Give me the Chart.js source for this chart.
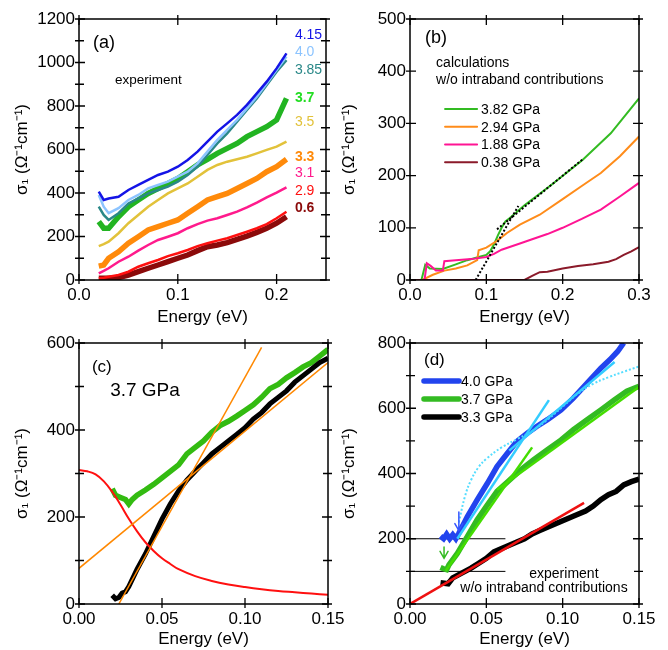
<!DOCTYPE html>
<html>
<head>
<meta charset="utf-8">
<script src="https://cdn.jsdelivr.net/npm/chart.js@4.4.0/dist/chart.umd.min.js"></script>
<style>
  body { margin: 0; background: #fff; }
  #wrap { position: relative; width: 668px; height: 650px; }
  #wrap canvas { position: absolute; left: 0; top: 0; }
</style>
</head>
<body>
<div id="wrap">
  <canvas id="chartA" width="668" height="650"></canvas>
  <canvas id="chartB" width="668" height="650"></canvas>
  <canvas id="chartC" width="668" height="650"></canvas>
  <canvas id="chartD" width="668" height="650"></canvas>
</div>
<script>
// ---- panel (a): experiment, one energy grid for all pressures
const energyA = [0.02, 0.025, 0.03, 0.04, 0.05, 0.06, 0.07, 0.08, 0.09, 0.1, 0.11, 0.12, 0.13, 0.14, 0.15, 0.16, 0.17, 0.18, 0.19, 0.2, 0.21];
const a415 = [406, 368, 375, 383, 414, 437, 460, 483, 498, 521, 552, 590, 636, 682, 720, 759, 805, 858, 912, 973, 1042];
const a400 = [391, 337, 307, 330, 368, 391, 421, 437, 452, 475, 498, 536, 590, 644, 690, 736, 789, 843, 904, 966, 1027];
const a385 = [337, 299, 276, 307, 352, 375, 398, 414, 429, 452, 483, 521, 575, 628, 674, 728, 782, 835, 897, 958, 1011];
const a370 = [268, 238, 238, 291, 337, 368, 398, 421, 444, 467, 498, 529, 555, 582, 605, 628, 659, 682, 705, 736, 835];
const a350 = [156, 165, 176, 215, 261, 299, 337, 368, 398, 421, 444, 475, 506, 529, 544, 555, 567, 582, 598, 613, 636];
const a330 = [64, 69, 100, 130, 169, 199, 230, 245, 261, 276, 307, 337, 368, 383, 398, 421, 444, 467, 498, 521, 555];
const a310 = [31, 42, 54, 84, 107, 135, 161, 184, 199, 215, 238, 257, 273, 284, 299, 314, 334, 356, 380, 402, 426];
const a290 = [8, 10, 15, 23, 38, 61, 77, 92, 110, 123, 138, 156, 169, 181, 192, 207, 222, 238, 257, 284, 314];
const a060 = [8, 8, 8, 11, 23, 38, 54, 69, 84, 100, 115, 135, 153, 161, 172, 187, 202, 219, 238, 261, 291];
const labelsA = ['4.15', '4.0', '3.85', '3.7', '3.5', '3.3', '3.1', '2.9', '0.6'];

// ---- panel (b): calculations
const b382x = [0, 0.015, 0.02, 0.026, 0.043, 0.06, 0.075, 0.09, 0.1, 0.105, 0.11, 0.115, 0.12, 0.125, 0.13, 0.15, 0.185, 0.226, 0.263, 0.3];
const b382y = [0, 0, 29, 22, 21, 30, 38, 44, 48, 55, 68, 85, 100, 112, 118, 143, 182, 230, 281, 348];
const b294x = [0, 0.016, 0.03, 0.045, 0.06, 0.075, 0.088, 0.09, 0.1, 0.114, 0.127, 0.144, 0.17, 0.2, 0.225, 0.25, 0.275, 0.3];
const b294y = [0, 0, 10, 18, 22, 28, 38, 57, 62, 75, 90, 106, 125, 155, 180, 205, 237, 275];
const b188x = [0, 0.019, 0.022, 0.027, 0.034, 0.043, 0.045, 0.06, 0.08, 0.1, 0.11, 0.12, 0.144, 0.16, 0.18, 0.2, 0.225, 0.25, 0.275, 0.3];
const b188y = [0, 0, 32, 27, 18, 18, 36, 38, 40, 44, 50, 58, 70, 78, 88, 100, 117, 135, 160, 186];
const b038x = [0, 0.15, 0.16, 0.17, 0.18, 0.2, 0.22, 0.24, 0.26, 0.27, 0.28, 0.29, 0.3];
const b038y = [0, 0, 8, 15, 16, 22, 27, 30, 35, 40, 48, 55, 63];
const bFit1x = [0.086, 0.142], bFit1y = [0, 142];
const bFit2x = [0.114, 0.226], bFit2y = [97, 231];
const labelsB = ['3.82 GPa', '2.94 GPa', '1.88 GPa', '0.38 GPa'];

// ---- panel (c): 3.7 GPa decomposition
const cExpX = [0.02, 0.022, 0.025, 0.028, 0.03, 0.032, 0.035, 0.04, 0.045, 0.05, 0.055, 0.06, 0.065, 0.07, 0.075, 0.08, 0.085, 0.09, 0.095, 0.1, 0.105, 0.11, 0.115, 0.12, 0.125, 0.13, 0.135, 0.14, 0.145, 0.15];
const cExpY = [265, 250, 245, 240, 230, 240, 250, 262, 275, 290, 305, 320, 345, 360, 375, 395, 410, 420, 432, 445, 458, 475, 495, 505, 520, 532, 545, 555, 570, 585];
const cInterX = [0.02, 0.022, 0.024, 0.026, 0.028, 0.03, 0.035, 0.04, 0.045, 0.05, 0.055, 0.06, 0.065, 0.07, 0.075, 0.08, 0.085, 0.09, 0.095, 0.1, 0.105, 0.11, 0.115, 0.12, 0.125, 0.13, 0.135, 0.14, 0.145, 0.15];
const cInterY = [20, 12, 15, 25, 28, 40, 80, 115, 155, 195, 230, 260, 285, 305, 325, 345, 360, 375, 390, 405, 425, 440, 460, 475, 490, 510, 525, 540, 555, 565];
const cDrudeX = [0, 0.005, 0.01, 0.015, 0.02, 0.025, 0.03, 0.035, 0.04, 0.045, 0.05, 0.055, 0.06, 0.07, 0.08, 0.09, 0.1, 0.11, 0.12, 0.13, 0.14, 0.15];
const cDrudeY = [308, 305, 298, 282, 258, 228, 196, 167, 142, 122, 105, 92, 80, 64, 53, 45, 39, 34, 30, 27, 24, 21];
const cSteepX = [0.024, 0.11], cSteepY = [0, 590];
const cFlatX = [0, 0.15], cFlatY = [82, 555];

// ---- panel (d): experiment w/o intraband
const d400x = [0.02, 0.022, 0.024, 0.026, 0.028, 0.03, 0.032, 0.0376, 0.044, 0.0507, 0.057, 0.0638, 0.07, 0.077, 0.083, 0.09, 0.099, 0.107, 0.116, 0.125, 0.131, 0.136, 0.14];
const d400y = [208, 200, 214, 200, 212, 200, 217, 268, 319, 370, 421, 462, 498, 524, 544, 565, 595, 631, 677, 723, 749, 774, 800];
const d370x = [0.02, 0.022, 0.024, 0.0255, 0.031, 0.0376, 0.044, 0.0507, 0.057, 0.064, 0.0725, 0.081, 0.09, 0.099, 0.107, 0.116, 0.125, 0.134, 0.142, 0.15];
const d370y = [112, 108, 105, 120, 155, 207, 258, 304, 345, 375, 411, 442, 473, 503, 534, 565, 595, 626, 652, 667];
const d330x = [0.02, 0.025, 0.028, 0.032, 0.036, 0.04, 0.045, 0.05, 0.055, 0.06, 0.065, 0.07, 0.075, 0.08, 0.085, 0.09, 0.095, 0.1, 0.105, 0.11, 0.115, 0.12, 0.125, 0.13, 0.135, 0.14, 0.145, 0.15];
const d330y = [65, 62, 80, 90, 100, 110, 125, 140, 160, 170, 180, 190, 200, 215, 225, 235, 245, 255, 265, 275, 285, 300, 320, 335, 345, 365, 375, 383];
const dCyan1x = [0.031, 0.091], dCyan1y = [200, 625];
const dCyan2x = [0.065, 0.134], dCyan2y = [470, 742];
const dCyanDotX = [0.032, 0.036, 0.04, 0.045, 0.05, 0.06, 0.07, 0.08, 0.09, 0.1, 0.11, 0.12, 0.13, 0.14, 0.15];
const dCyanDotY = [250, 330, 380, 420, 445, 480, 505, 530, 565, 605, 645, 675, 695, 712, 728];
const dGreen1x = [0.0234, 0.08], dGreen1y = [102, 480];
const dGreen2x = [0.057, 0.15], dGreen2y = [350, 665];
const dRedX = [0, 0.114], dRedY = [0, 310];
const dLevelX = [0, 0.0625], dLevel200 = [200, 200], dLevel100 = [100, 100];
const dArrowX = [0.032, 0.0223], dArrowTop = [282, 175], dArrowTip = [225, 140];
const labelsD = ['4.0 GPa', '3.7 GPa', '3.3 GPa'];

const FONT = "'Liberation Sans', Arial, sans-serif";
Chart.defaults.font.family = FONT;
Chart.defaults.font.size = 17;
Chart.defaults.font.weight = 'normal';
Chart.defaults.color = '#000';

function pts(xs, ys) {
    return xs.map((x, i) => ({ x: x, y: ys[i] }));
}

function line(xs, ys, color, width, extra) {
    return Object.assign({
        data: pts(xs, ys),
        borderColor: color,
        borderWidth: width,
        pointRadius: 0,
        fill: false,
        tension: 0
    }, extra || {});
}

// box round the plot with ticks on all four sides
const framePlugin = {
    id: 'frame',
    afterDraw(chart, args, opts) {
        const { ctx, chartArea: a, scales: { x, y } } = chart;
        ctx.save();
        ctx.strokeStyle = '#000';
        ctx.lineWidth = 1.5;
        ctx.strokeRect(a.left, a.top, a.right - a.left, a.bottom - a.top);
        ctx.lineWidth = 1.3;
        ctx.beginPath();
        x.ticks.forEach(t => {
            const px = x.getPixelForValue(t.value);
            ctx.moveTo(px, a.bottom + 4); ctx.lineTo(px, a.bottom - 6);
            ctx.moveTo(px, a.top - 4); ctx.lineTo(px, a.top + 6);
        });
        const ys = [];
        y.ticks.forEach(t => ys.push([t.value, 6]));
        if (opts.minorY) {
            for (let v = y.min + opts.minorY; v < y.max; v += 2 * opts.minorY) ys.push([v, 5]);
        }
        ys.forEach(([v, len]) => {
            const py = y.getPixelForValue(v);
            ctx.moveTo(a.left - 4, py); ctx.lineTo(a.left + len, py);
            ctx.moveTo(a.right + 4, py); ctx.lineTo(a.right - len, py);
        });
        ctx.stroke();
        ctx.restore();
    }
};

// panel letters, captions, hand-placed legends and arrows
const notesPlugin = {
    id: 'notes',
    afterDraw(chart, args, opts) {
        const { ctx, chartArea: a, scales: { x, y } } = chart;
        const w = a.right - a.left, h = a.bottom - a.top;
        ctx.save();
        ctx.textBaseline = 'middle';
        (opts.texts || []).forEach(t => {
            ctx.font = (t.bold ? 'bold ' : '') + t.size + 'px ' + FONT;
            ctx.fillStyle = t.color || '#000';
            ctx.textAlign = t.align || 'left';
            ctx.fillText(t.text, a.left + t.fx * w, a.top + t.fy * h);
        });
        const lg = opts.legend;
        if (lg) {
            ctx.font = lg.size + 'px ' + FONT;
            ctx.textAlign = 'left';
            lg.items.forEach((it, i) => {
                const py = a.top + (lg.fy + i * lg.dy) * h;
                ctx.strokeStyle = it.color;
                ctx.lineWidth = lg.width;
                ctx.lineCap = 'round';
                ctx.beginPath();
                ctx.moveTo(a.left + lg.fx0 * w, py);
                ctx.lineTo(a.left + lg.fx1 * w, py);
                ctx.stroke();
                ctx.fillStyle = '#000';
                ctx.fillText(it.text, a.left + lg.ftx * w, py + 1);
            });
        }
        (opts.arrows || []).forEach(ar => {
            const px = x.getPixelForValue(ar.x);
            const p0 = y.getPixelForValue(ar.top), p1 = y.getPixelForValue(ar.tip);
            ctx.strokeStyle = ar.color;
            ctx.lineWidth = 1.5;
            ctx.beginPath();
            ctx.moveTo(px, p0); ctx.lineTo(px, p1);
            ctx.moveTo(px - 4, p1 - 7); ctx.lineTo(px, p1); ctx.lineTo(px + 4, p1 - 7);
            ctx.stroke();
        });
        ctx.restore();
    }
};

function panel(id, c) {
    new Chart(document.getElementById(id), {
        type: 'line',
        data: { datasets: c.datasets },
        options: {
            responsive: false,
            animation: false,
            events: [],
            layout: { padding: c.pad },
            plugins: {
                legend: { display: false },
                tooltip: { enabled: false },
                frame: { minorY: c.minorY },
                notes: c.notes
            },
            scales: {
                x: {
                    type: 'linear',
                    min: c.xmin, max: c.xmax,
                    afterFit: s => { s.height = c.xh; },
                    grid: { display: false, drawTicks: false },
                    border: { display: false },
                    ticks: {
                        stepSize: c.xstep, includeBounds: false, padding: 5,
                        maxRotation: 0, autoSkip: false,
                        font: { size: 17, weight: 'normal' },
                        callback: v => v.toFixed(c.xdec)
                    },
                    title: {
                        display: true, text: 'Energy (eV)',
                        font: { size: 17, weight: 'normal' },
                        padding: { top: 0, bottom: c.xtp }
                    }
                },
                y: {
                    min: c.ymin, max: c.ymax,
                    afterFit: s => { s.width = c.yw; },
                    grid: { display: false, drawTicks: false },
                    border: { display: false },
                    ticks: {
                        stepSize: c.ystep, includeBounds: false, padding: 4,
                        font: { size: 17, weight: 'normal' },
                        callback: v => String(v)
                    },
                    title: {
                        display: true, text: 'σ₁ (Ω⁻¹cm⁻¹)',
                        font: { size: 17, weight: 'normal' },
                        padding: { top: c.ytp, bottom: 0 }
                    }
                }
            }
        },
        plugins: [framePlugin, notesPlugin]
    });
}

// (a)
const colorsA = ['#1414e6', '#8cc4ff', '#2a8888', '#22b422', '#e2c23a', '#ff8a0a', '#ff1a8c', '#ff1010', '#8b0a0a'];
panel('chartA', {
    pad: { left: 0, top: 19, right: 342, bottom: 320 },
    yw: 79, xh: 50, ytp: 12, xtp: 2,
    xmin: 0, xmax: 0.25, xstep: 0.1, xdec: 1,
    ymin: 0, ymax: 1200, ystep: 200, minorY: 100,
    datasets: [
        line(energyA, a415, colorsA[0], 2.5),
        line(energyA, a400, colorsA[1], 2.5),
        line(energyA, a385, colorsA[2], 2.5),
        line(energyA, a370, colorsA[3], 5.5),
        line(energyA, a350, colorsA[4], 2.5),
        line(energyA, a330, colorsA[5], 5.5),
        line(energyA, a310, colorsA[6], 2.5),
        line(energyA, a290, colorsA[7], 2.5),
        line(energyA, a060, colorsA[8], 5.5)
    ],
    notes: {
        texts: [
            { text: '(a)', fx: 0.057, fy: 0.092, size: 18 },
            { text: 'experiment', fx: 0.146, fy: 0.234, size: 13.5 },
            ...labelsA.map((t, i) => ({
                text: t, fx: 0.874,
                fy: [0.060, 0.126, 0.195, 0.303, 0.395, 0.529, 0.590, 0.659, 0.724][i],
                size: 14, color: i === 3 ? '#22dd22' : colorsA[i], bold: [3, 5, 8].includes(i)
            }))
        ]
    }
});

// (b)
const colorsB = ['#33bb22', '#ff8c1a', '#ff1493', '#8b1a2a'];
panel('chartB', {
    pad: { left: 334, top: 19, right: 29, bottom: 320 },
    yw: 76, xh: 50, ytp: 5, xtp: 2,
    xmin: 0, xmax: 0.3, xstep: 0.1, xdec: 1,
    ymin: 0, ymax: 500, ystep: 100, minorY: 0,
    datasets: [
        line(bFit1x, bFit1y, '#000', 2, { borderDash: [2, 2] }),
        line(bFit2x, bFit2y, '#000', 2, { borderDash: [2, 2] }),
        line(b038x, b038y, colorsB[3], 2),
        line(b188x, b188y, colorsB[2], 2),
        line(b294x, b294y, colorsB[1], 2),
        line(b382x, b382y, colorsB[0], 2)
    ],
    notes: {
        texts: [
            { text: '(b)', fx: 0.066, fy: 0.073, size: 18 },
            { text: 'calculations', fx: 0.114, fy: 0.169, size: 14 },
            { text: 'w/o intraband contributions', fx: 0.114, fy: 0.236, size: 14 }
        ],
        legend: {
            size: 14, width: 2, fx0: 0.153, fx1: 0.293, ftx: 0.31, fy: 0.345, dy: 0.068,
            items: labelsB.map((t, i) => ({ text: t, color: colorsB[i] }))
        }
    }
});

// (c)
panel('chartC', {
    pad: { left: 0, top: 343, right: 340, bottom: 0 },
    yw: 79, xh: 46, ytp: 12, xtp: 0,
    xmin: 0, xmax: 0.15, xstep: 0.05, xdec: 2,
    ymin: 0, ymax: 600, ystep: 200, minorY: 100,
    datasets: [
        line(cSteepX, cSteepY, '#ff8800', 1.5),
        line(cFlatX, cFlatY, '#ff8800', 1.5),
        line(cDrudeX, cDrudeY, '#ff1010', 2, { tension: 0.4 }),
        line(cInterX, cInterY, '#000', 5),
        line(cExpX, cExpY, '#33bb11', 5.5)
    ],
    notes: {
        texts: [
            { text: '(c)', fx: 0.052, fy: 0.092, size: 17 },
            { text: '3.7 GPa', fx: 0.125, fy: 0.184, size: 19 }
        ]
    }
});

// (d)
panel('chartD', {
    pad: { left: 334, top: 343, right: 29, bottom: 0 },
    yw: 76, xh: 46, ytp: 5, xtp: 0,
    xmin: 0, xmax: 0.15, xstep: 0.05, xdec: 2,
    ymin: 0, ymax: 800, ystep: 200, minorY: 100,
    datasets: [
        line(dRedX, dRedY, '#ee1111', 2.5),
        line(dCyan1x, dCyan1y, '#33ccff', 2.5),
        line(dCyan2x, dCyan2y, '#33ccff', 2.5),
        line(dCyanDotX, dCyanDotY, '#55ddff', 2, { borderDash: [2, 2], tension: 0.4 }),
        line(dGreen1x, dGreen1y, '#44dd00', 2.5),
        line(dGreen2x, dGreen2y, '#44dd00', 2.5),
        line(d400x, d400y, '#2244ee', 5.5),
        line(d370x, d370y, '#33bb22', 5.5),
        line(d330x, d330y, '#000', 5.5),
        line(dLevelX, dLevel200, '#000', 1),
        line(dLevelX, dLevel100, '#000', 1)
    ],
    notes: {
        texts: [
            { text: '(d)', fx: 0.061, fy: 0.065, size: 17 },
            { text: 'experiment', fx: 0.672, fy: 0.885, size: 14, align: 'center' },
            { text: 'w/o intraband contributions', fx: 0.585, fy: 0.939, size: 14, align: 'center' }
        ],
        legend: {
            size: 14, width: 5.5, fx0: 0.061, fx1: 0.214, ftx: 0.223, fy: 0.146, dy: 0.069,
            items: labelsD.map((t, i) => ({ text: t, color: ['#2244ee', '#33bb22', '#000'][i] }))
        },
        arrows: dArrowX.map((x, i) => ({ x: x, top: dArrowTop[i], tip: dArrowTip[i], color: ['#3355ff', '#33bb22'][i] }))
    }
});
</script>
</body>
</html>
